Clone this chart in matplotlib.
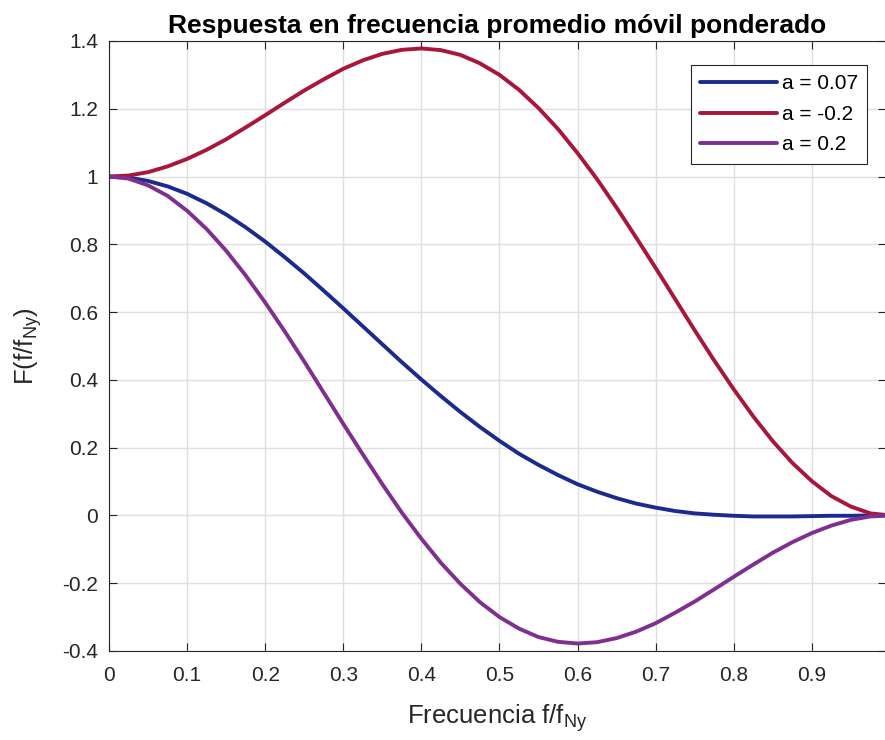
import matplotlib
matplotlib.use("Agg")
import matplotlib.pyplot as plt

freq = [0.000, 0.025, 0.050, 0.075, 0.100, 0.125, 0.150, 0.175, 0.200, 0.225,
        0.250, 0.275, 0.300, 0.325, 0.350, 0.375, 0.400, 0.425, 0.450, 0.475,
        0.500, 0.525, 0.550, 0.575, 0.600, 0.625, 0.650, 0.675, 0.700, 0.725,
        0.750, 0.775, 0.800, 0.825, 0.850, 0.875, 0.900, 0.925, 0.950, 0.975,
        1.000]

resp_a007 = [1.000, 0.997, 0.987, 0.971, 0.949, 0.921, 0.888, 0.850, 0.808, 0.762,
             0.714, 0.663, 0.611, 0.558, 0.505, 0.452, 0.401, 0.352, 0.305, 0.261,
             0.220, 0.182, 0.149, 0.119, 0.092, 0.070, 0.051, 0.035, 0.023, 0.013,
             0.006, 0.002, -0.001, -0.003, -0.003, -0.003, -0.002, -0.001, -0.001, 0.000,
             0.000]
resp_am02 = [1.000, 1.003, 1.013, 1.030, 1.052, 1.079, 1.110, 1.145, 1.181, 1.218,
             1.254, 1.287, 1.318, 1.343, 1.362, 1.374, 1.378, 1.373, 1.359, 1.334,
             1.300, 1.256, 1.202, 1.140, 1.069, 0.992, 0.908, 0.820, 0.730, 0.638,
             0.546, 0.457, 0.372, 0.292, 0.219, 0.155, 0.101, 0.057, 0.026, 0.006,
             0.000]
resp_a02 = [1.000, 0.994, 0.974, 0.943, 0.899, 0.845, 0.781, 0.708, 0.628, 0.543,
            0.454, 0.362, 0.270, 0.180, 0.092, 0.008, -0.069, -0.140, -0.202, -0.256,
            -0.300, -0.334, -0.359, -0.373, -0.378, -0.374, -0.362, -0.343, -0.318, -0.287,
            -0.254, -0.218, -0.181, -0.145, -0.110, -0.079, -0.052, -0.030, -0.013, -0.003,
            0.000]

labels = ["a = 0.07", "a = -0.2", "a = 0.2"]
colors = ["#1b2a8d", "#a8163b", "#7f2f8f"]

xticks = [0, 0.1, 0.2, 0.3, 0.4, 0.5, 0.6, 0.7, 0.8, 0.9]
xticklabels = ["0", "0.1", "0.2", "0.3", "0.4", "0.5", "0.6", "0.7", "0.8", "0.9"]
yticks = [-0.4, -0.2, 0, 0.2, 0.4, 0.6, 0.8, 1.0, 1.2, 1.4]
yticklabels = ["-0.4", "-0.2", "0", "0.2", "0.4", "0.6", "0.8", "1", "1.2", "1.4"]

plt.rcParams['font.family'] = ['Liberation Sans', 'DejaVu Sans']
plt.rcParams['mathtext.default'] = 'regular'

fig = plt.figure(figsize=(8.85, 7.4), dpi=100)
ax = fig.add_axes([0.1232, 0.1203, 0.878, 0.8243])

for ys, lab, col in zip([resp_a007, resp_am02, resp_a02], labels, colors):
    ax.plot(freq, ys, color=col, lw=2.8, label=lab,
            solid_joinstyle='round', solid_capstyle='round')

ax.set_xlim(0, 0.995)
ax.set_ylim(-0.4, 1.4)
ax.set_xticks(xticks)
ax.set_xticklabels(xticklabels)
ax.set_yticks(yticks)
ax.set_yticklabels(yticklabels)
ax.grid(True, color='#dfdfdf', lw=1.0)
ax.set_axisbelow(True)
ax.tick_params(direction='in', top=True, right=True, length=6, width=0.8,
               labelsize=15, colors='#262626')
ax.tick_params(axis='x', pad=11)
ax.tick_params(axis='y', pad=8)
for s in ax.spines.values():
    s.set_color('#262626')
    s.set_linewidth(0.8)

ax.set_title('Respuesta en frecuencia promedio móvil ponderado', fontsize=19,
             fontweight='bold', pad=6)
ax.set_xlabel('Frecuencia f/f$_{Ny}$', fontsize=18.5, color='#262626', labelpad=12)
ax.set_ylabel('F(f/f$_{Ny}$)', fontsize=18.5, color='#262626', labelpad=13)

leg = ax.legend(loc='upper right', bbox_to_anchor=(0.9756, 0.9605), borderaxespad=0,
                fontsize=15, frameon=True, fancybox=False, edgecolor='#262626',
                framealpha=1, handlelength=3.7, handletextpad=0.2, borderpad=0.45,
                labelspacing=0.55)
leg.get_frame().set_linewidth(0.8)

fig.savefig('out.png', dpi=100)
